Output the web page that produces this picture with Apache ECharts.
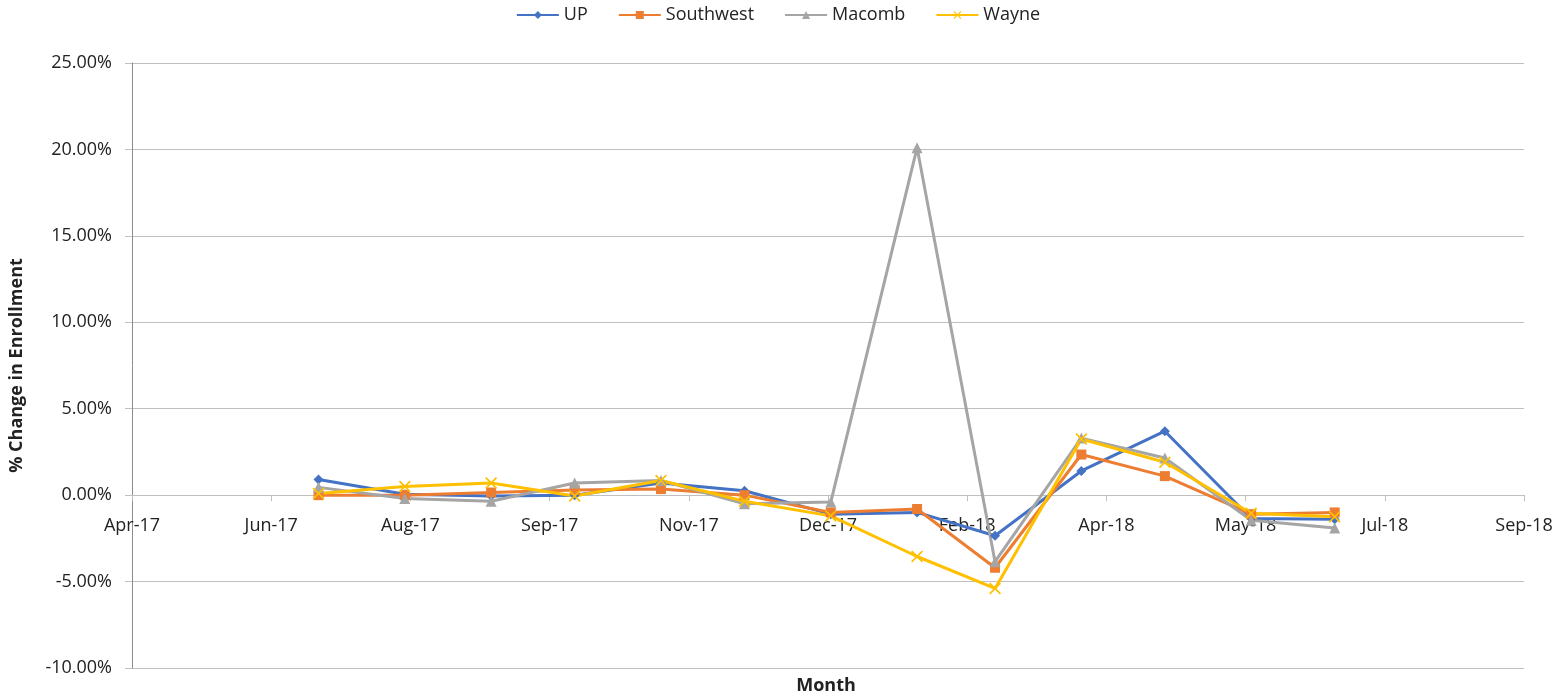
<!doctype html>
<html>
	<head>
		<meta charset="UTF-8">
		<title>% Change in Enrollment</title>
		<script src="https://cdn.jsdelivr.net/npm/echarts@6/dist/echarts.min.js"></script>
		<style type="text/css">
			html, body {
				margin: 0;
				padding: 0;
				background: #fff;
			}
			#chart {
				width: 1556px;
				height: 696px;
			}
		</style>
	</head>
	<body>
		<div id="chart"></div>
		<script type="text/javascript">
			// months (first of month), values in %
			var months = ['2017-07-01', '2017-08-01', '2017-09-01', '2017-10-01', '2017-11-01', '2017-12-01',
				'2018-01-01', '2018-02-01', '2018-03-01', '2018-04-01', '2018-05-01', '2018-06-01', '2018-07-01'];
			var seriesNames = ['UP', 'Southwest', 'Macomb', 'Wayne'];
			var upVals = [0.9, 0.05, -0.05, 0.0, 0.7, 0.25, -1.1, -1.0, -2.35, 1.4, 3.7, -1.35, -1.4];
			var southwestVals = [0.0, 0.0, 0.15, 0.3, 0.35, 0.0, -1.0, -0.8, -4.2, 2.35, 1.1, -1.1, -1.0];
			var macombVals = [0.45, -0.2, -0.35, 0.7, 0.85, -0.5, -0.4, 20.1, -3.85, 3.3, 2.15, -1.45, -1.9];
			var wayneVals = [0.1, 0.5, 0.7, -0.05, 0.85, -0.35, -1.2, -3.55, -5.4, 3.25, 1.9, -1.05, -1.25];

			// date axis like excel: serial numbers, min 42850 (25-Apr-17), step 50 days
			var xMin = 42850, xMax = 43350, xStep = 50;
			var yMin = -10, yMax = 25, yStep = 5;

			var monNames = ['Jan', 'Feb', 'Mar', 'Apr', 'May', 'Jun', 'Jul', 'Aug', 'Sep', 'Oct', 'Nov', 'Dec'];
			var base = Date.UTC(1899, 11, 30);
			function toSerial(s) {
				var p = s.split('-');
				return Math.round((Date.UTC(+p[0], +p[1] - 1, +p[2]) - base) / 86400000);
			}
			function serialLabel(v) {
				var d = new Date(base + v * 86400000);
				return monNames[d.getUTCMonth()] + '-' + String(d.getUTCFullYear()).slice(2);
			}
			function pairs(vals) {
				var out = [];
				for (var i = 0; i < vals.length; i++) {
					out.push([toSerial(months[i]), vals[i]]);
				}
				return out;
			}

			var xShape = 'path://M0,1L1,0L5,4L9,0L10,1L6,5L10,9L9,10L5,6L1,10L0,9L4,5Z';
			var colors = ['#4472C4', '#ED7D31', '#A5A5A5', '#FFC000'];
			var symbols = ['diamond', 'rect', 'triangle', xShape];
			var sizes = [10, 10, 11, 12];
			var allVals = [upVals, southwestVals, macombVals, wayneVals];

			var series = [];
			for (var k = 0; k < seriesNames.length; k++) {
				series.push({
					name: seriesNames[k],
					type: 'line',
					data: pairs(allVals[k]),
					symbol: symbols[k],
					symbolSize: sizes[k],
					showAllSymbol: true,
					lineStyle: { width: 3, color: colors[k] },
					itemStyle: { color: colors[k] },
					emphasis: { disabled: true }
				});
			}

			// grid box
			var gTop = 63, gBottom = 28, H = 696;
			var plotH = H - gTop - gBottom;
			// x axis sits on the 0% line, like excel
			var zeroOffset = -plotH * (0 - yMin) / (yMax - yMin);

			var font = '"Open Sans", "Noto Sans", sans-serif';
			var myChart = echarts.init(document.getElementById('chart'));
			var option = {
				animation: false,
				color: colors,
				textStyle: { fontFamily: font },
				legend: {
					top: 1,
					left: 'center',
					itemWidth: 42,
					itemHeight: 10,
					itemGap: 30,
					textStyle: { fontSize: 18, color: '#222', fontFamily: font },
					data: seriesNames
				},
				grid: {
					left: 128,
					right: 32,
					top: gTop,
					bottom: gBottom,
					containLabel: false
				},
				xAxis: {
					type: 'value',
					min: xMin,
					max: xMax,
					interval: xStep,
					position: 'bottom',
					offset: zeroOffset,
					axisLine: { show: true, onZero: false, lineStyle: { color: '#BFBFBF', width: 1 } },
					axisTick: { show: true, length: 6, inside: false, lineStyle: { color: '#BFBFBF' } },
					splitLine: { show: false },
					axisLabel: {
						margin: 22,
						fontSize: 18,
						color: '#222',
						fontFamily: font,
						formatter: serialLabel
					}
				},
				yAxis: {
					type: 'value',
					min: yMin,
					max: yMax,
					interval: yStep,
					name: '% Change in Enrollment',
					nameLocation: 'middle',
					nameGap: 106,
					nameTextStyle: { fontSize: 18, fontWeight: 'bold', color: '#222', fontFamily: font },
					axisLine: { show: true, lineStyle: { color: '#8C8C8C', width: 1 } },
					axisTick: { show: true, length: 7, lineStyle: { color: '#BFBFBF' } },
					splitLine: { show: true, lineStyle: { color: '#BFBFBF', width: 1 } },
					axisLabel: {
						margin: 20,
						fontSize: 18,
						color: '#222',
						fontFamily: font,
						formatter: function (v) { return v.toFixed(2) + '%'; }
					}
				},
				graphic: [{
					type: 'text',
					x: 826,
					y: 686,
					style: {
						text: 'Month',
						fontSize: 18,
						fontWeight: 'bold',
						fill: '#222',
						fontFamily: font,
						align: 'center',
						verticalAlign: 'middle'
					}
				}],
				series: series
			};
			myChart.setOption(option);
		</script>
	</body>
</html>
